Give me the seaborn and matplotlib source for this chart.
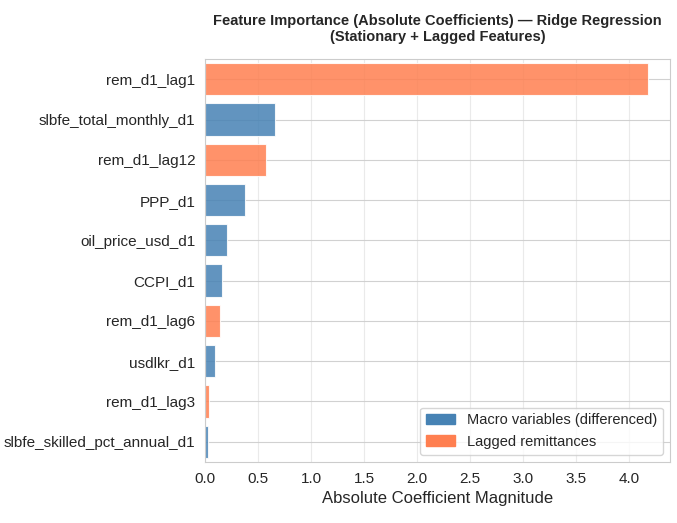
import numpy as np
import pandas as pd
import matplotlib
matplotlib.use("Agg")
import matplotlib.pyplot as plt
import seaborn as sns
from matplotlib.patches import Patch

features = ["rem_d1_lag1", "slbfe_total_monthly_d1", "rem_d1_lag12", "PPP_d1",
            "oil_price_usd_d1", "CCPI_d1", "rem_d1_lag6", "usdlkr_d1",
            "rem_d1_lag3", "slbfe_skilled_pct_annual_d1"]
importance = [4.18, 0.66, 0.57, 0.38, 0.21, 0.16, 0.14, 0.095, 0.038, 0.025]
groups = ["Lagged remittances", "Macro variables (differenced)", "Lagged remittances",
          "Macro variables (differenced)", "Macro variables (differenced)",
          "Macro variables (differenced)", "Lagged remittances",
          "Macro variables (differenced)", "Lagged remittances",
          "Macro variables (differenced)"]

colors = {"Macro variables (differenced)": "steelblue", "Lagged remittances": "coral"}

df = pd.DataFrame({"feature": features, "importance": importance, "group": groups})

sns.set_style("whitegrid")
plt.rcParams['font.family'] = ['Liberation Sans', 'DejaVu Sans']

fig, ax = plt.subplots(figsize=(6.77, 5.23), dpi=100)
fig.subplots_adjust(left=0.303, right=0.99, top=0.887, bottom=0.117)

# bars coloured by feature group
sns.barplot(data=df, y="feature", x="importance", hue="group", palette=colors,
            dodge=False, alpha=0.85, edgecolor="white", linewidth=0.8,
            saturation=1, legend=False, ax=ax, orient="h")

ax.set_title("Feature Importance (Absolute Coefficients) — Ridge Regression\n"
             "(Stationary + Lagged Features)", fontsize=10.5, fontweight="bold",
             pad=13)
ax.set_xlabel("Absolute Coefficient Magnitude", fontsize=12)
ax.set_ylabel("")
ax.tick_params(axis="both", labelsize=11)
ax.set_xticks(np.arange(0, 4.01, 0.5))
ax.grid(True, axis="x", alpha=0.4)
ax.grid(True, axis="y", alpha=0.9)

handles = [Patch(color=colors[k], label=k) for k in colors]
ax.legend(handles=handles, loc="lower right", fontsize=10.5, frameon=True)

plt.savefig("out.png", dpi=100)
